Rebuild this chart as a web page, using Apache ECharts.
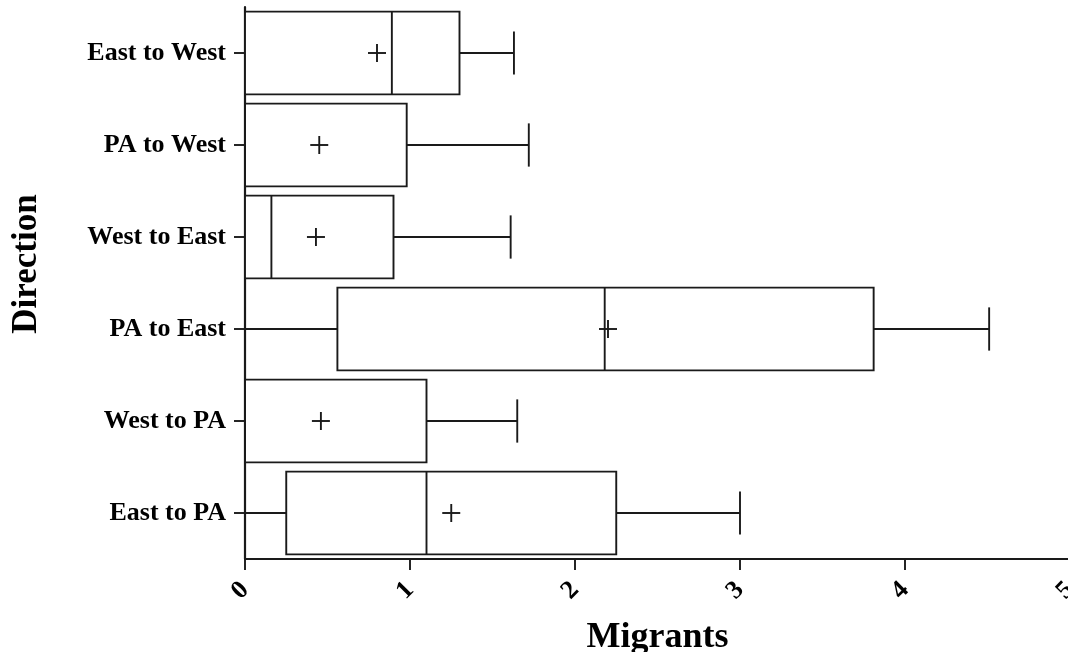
<!DOCTYPE html>
<html>
<head>
<meta charset="utf-8">
<script src="https://cdn.jsdelivr.net/npm/echarts@6/dist/echarts.min.js"></script>
<style>
html,body{margin:0;padding:0;background:#fff;}
#chart{width:1068px;height:652px;}
</style>
</head>
<body>
<div id="chart"></div>
<script>
var categories = ['East to PA', 'West to PA', 'PA to East', 'West to East', 'PA to West', 'East to West'];
var minVals    = [0, 0, 0, 0, 0, 0];
var q1Vals     = [0.25, 0, 0.56, 0, 0, 0];
var medianVals = [1.10, 0, 2.18, 0.16, 0, 0.89];
var q3Vals     = [2.25, 1.10, 3.81, 0.90, 0.98, 1.30];
var maxVals    = [3.00, 1.65, 4.51, 1.61, 1.72, 1.63];
var meanVals   = [1.25, 0.46, 2.20, 0.43, 0.45, 0.80];
var xTicks     = [0, 1, 2, 3, 4, 5];

var seriesData = categories.map(function (c, i) {
  return [i, minVals[i], q1Vals[i], medianVals[i], q3Vals[i], maxVals[i], meanVals[i]];
});

var INK = '#1a1a1a';
var FONT = '"Liberation Serif", "Times New Roman", serif';
var LW = 1.9;

function renderItem(params, api) {
  var y = api.value(0);
  var band = api.size([0, 1])[1];
  var boxH = band * 0.9;
  var capH = band * 0.235;
  var pMin = api.coord([api.value(1), y]);
  var pQ1 = api.coord([api.value(2), y]);
  var pMed = api.coord([api.value(3), y]);
  var pQ3 = api.coord([api.value(4), y]);
  var pMax = api.coord([api.value(5), y]);
  var pMean = api.coord([api.value(6), y]);
  var cy = pQ1[1];
  var style = { stroke: INK, lineWidth: LW, fill: null };
  var children = [];
  children.push({ type: 'rect', shape: { x: pQ1[0], y: cy - boxH / 2, width: pQ3[0] - pQ1[0], height: boxH }, style: { stroke: INK, lineWidth: LW, fill: '#fff' } });
  children.push({ type: 'line', shape: { x1: pMed[0], y1: cy - boxH / 2, x2: pMed[0], y2: cy + boxH / 2 }, style: style });
  if (pQ1[0] - pMin[0] > 0.5) {
    children.push({ type: 'line', shape: { x1: pMin[0], y1: cy, x2: pQ1[0], y2: cy }, style: style });
    children.push({ type: 'line', shape: { x1: pMin[0], y1: cy - capH, x2: pMin[0], y2: cy + capH }, style: style });
  }
  if (pMax[0] - pQ3[0] > 0.5) {
    children.push({ type: 'line', shape: { x1: pQ3[0], y1: cy, x2: pMax[0], y2: cy }, style: style });
    children.push({ type: 'line', shape: { x1: pMax[0], y1: cy - capH, x2: pMax[0], y2: cy + capH }, style: style });
  }
  children.push({ type: 'line', shape: { x1: pMean[0] - 9, y1: cy, x2: pMean[0] + 9, y2: cy }, style: style });
  children.push({ type: 'line', shape: { x1: pMean[0], y1: cy - 9, x2: pMean[0], y2: cy + 9 }, style: style });
  return { type: 'group', children: children };
}

var chart = echarts.init(document.getElementById('chart'), null, { renderer: 'canvas' });
chart.setOption({
  backgroundColor: '#ffffff',
  animation: false,
  grid: { left: 245, top: 7, right: -2, bottom: 93, containLabel: false, outerBoundsMode: 'none' },
  xAxis: {
    type: 'value',
    min: xTicks[0],
    max: xTicks[xTicks.length - 1],
    interval: 1,
    name: 'Migrants',
    nameLocation: 'middle',
    nameGap: 61,
    nameTextStyle: { fontFamily: FONT, fontWeight: 'bold', fontSize: 36, color: '#000' },
    axisLine: { show: true, lineStyle: { color: INK, width: 2.2 } },
    axisTick: { show: true, length: 11, lineStyle: { color: INK, width: LW } },
    axisLabel: { rotate: 45, margin: 27, fontFamily: FONT, fontWeight: 'bold', fontSize: 26, color: '#000', hideOverlap: false },
    splitLine: { show: false }
  },
  yAxis: {
    type: 'category',
    data: categories,
    axisLine: { show: true, lineStyle: { color: INK, width: 2.2 } },
    axisTick: { show: true, alignWithLabel: true, length: 11, lineStyle: { color: INK, width: LW } },
    axisLabel: { margin: 19, fontFamily: FONT, fontWeight: 'bold', fontSize: 26, color: '#000' },
    splitLine: { show: false }
  },
  graphic: [{
    type: 'text',
    x: 27,
    y: 264,
    rotation: Math.PI / 2,
    style: { text: 'Direction', font: 'bold 35px ' + FONT, fill: '#000', textAlign: 'center', textVerticalAlign: 'middle' }
  }],
  series: [{
    type: 'custom',
    renderItem: renderItem,
    encode: { x: [1, 2, 3, 4, 5, 6], y: 0 },
    data: seriesData,
    clip: false
  }]
});
</script>
</body>
</html>
